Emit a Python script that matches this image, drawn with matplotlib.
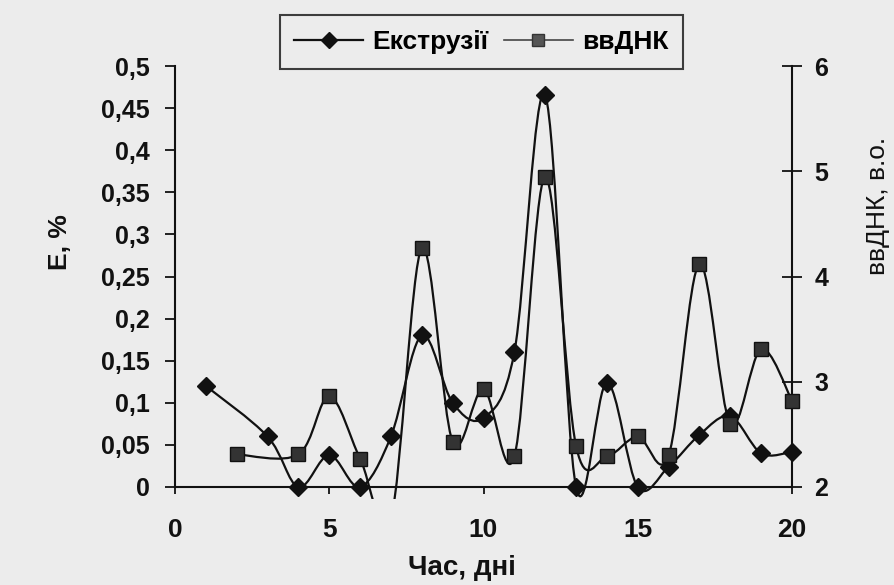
import matplotlib
matplotlib.use("Agg")
import matplotlib.pyplot as plt
from matplotlib.path import Path
from matplotlib.patches import PathPatch
from matplotlib.lines import Line2D
from matplotlib.transforms import Bbox, TransformedBbox

# ---- data ----
ext_days = [1, 3, 4, 5, 6, 7, 8, 9, 10, 11, 12, 13, 14, 15, 16, 17, 18, 19, 20]
ext_vals = [0.12, 0.06, 0.0, 0.038, 0.0, 0.06, 0.18, 0.10, 0.082, 0.16, 0.465,
            0.0, 0.124, 0.0, 0.024, 0.062, 0.084, 0.04, 0.042]
dna_days = [2, 4, 5, 6, 7, 8, 9, 10, 11, 12, 13, 14, 15, 16, 17, 18, 19, 20]
dna_vals = [2.31, 2.31, 2.86, 2.27, 1.7, 4.27, 2.43, 2.93, 2.29, 4.95, 2.39,
            2.29, 2.48, 2.3, 4.12, 2.6, 3.31, 2.82]
x_ticks = [0, 5, 10, 15, 20]
left_ticks = [0, 0.05, 0.1, 0.15, 0.2, 0.25, 0.3, 0.35, 0.4, 0.45, 0.5]
left_labels = ["0", "0,05", "0,1", "0,15", "0,2", "0,25", "0,3", "0,35", "0,4", "0,45", "0,5"]
right_ticks = [2, 3, 4, 5, 6]
right_labels = ["2", "3", "4", "5", "6"]
label_ext = "Екструзії"
label_dna = "ввДНК"
x_title = "Час, дні"
left_title = "E, %"
right_title = "ввДНК, в.о."

plt.rcParams['font.family'] = ['Liberation Sans', 'DejaVu Sans']
plt.rcParams['font.weight'] = 'bold'

BG = '#ececec'
INK = '#111111'
W, H = 894, 585


def smooth_path(xs, ys):
    verts = [(xs[0], ys[0])]
    codes = [Path.MOVETO]
    n = len(xs)
    for i in range(n - 1):
        a = i - 1 if i > 0 else i
        b = i + 2 if i + 2 < n else i + 1
        c1 = (xs[i] + (xs[i + 1] - xs[a]) / 6.0, ys[i] + (ys[i + 1] - ys[a]) / 6.0)
        c2 = (xs[i + 1] - (xs[b] - xs[i]) / 6.0, ys[i + 1] - (ys[b] - ys[i]) / 6.0)
        verts += [c1, c2, (xs[i + 1], ys[i + 1])]
        codes += [Path.CURVE4] * 3
    return Path(verts, codes)


fig = plt.figure(figsize=(W / 100, H / 100), dpi=100, facecolor=BG)
ax = fig.add_axes([175 / W, 1 - 487 / H, (792 - 175) / W, (487 - 66) / H])
ax.set_facecolor('none')
ax2 = ax.twinx()

ax.set_xlim(0, 20)
ax.set_ylim(0, 0.5)
ax2.set_ylim(2, 6)

for a in (ax, ax2):
    a.spines['top'].set_visible(False)
    for s in a.spines.values():
        s.set_color(INK)
        s.set_linewidth(1.5)

ax.spines['right'].set_visible(False)
ax2.spines['left'].set_visible(False)
ax2.spines['bottom'].set_visible(False)

# a slightly enlarged clip region so edge markers are drawn whole
clip1 = TransformedBbox(Bbox([[-0.05, -0.028], [1.05, 1.03]]), ax.transAxes)
clip2 = TransformedBbox(Bbox([[-0.05, -0.028], [1.05, 1.03]]), ax2.transAxes)

# extrusions
p1 = PathPatch(smooth_path(ext_days, ext_vals), facecolor='none',
               edgecolor=INK, linewidth=1.6, zorder=3)
ax.add_patch(p1)
p1.set_clip_box(clip1)
m1, = ax.plot(ext_days, ext_vals, linestyle='none', marker='D', markersize=9,
              color=INK, zorder=4)
m1.set_clip_box(clip1)

# ввДНК
p2 = PathPatch(smooth_path(dna_days, dna_vals), facecolor='none',
               edgecolor=INK, linewidth=1.6, zorder=3)
ax2.add_patch(p2)
p2.set_clip_box(clip2)
m2, = ax2.plot(dna_days, dna_vals, linestyle='none', marker='s', markersize=10.5,
               markerfacecolor='#333333', markeredgecolor=INK, zorder=4)
m2.set_clip_box(clip2)

ax.set_xticks(x_ticks)
ax.set_xticklabels([str(t) for t in x_ticks])
ax.set_yticks(left_ticks)
ax.set_yticklabels(left_labels)
ax2.set_yticks(right_ticks)
ax2.set_yticklabels(right_labels)

ax.tick_params(axis='x', direction='out', length=5, width=1.3, colors=INK,
               labelsize=19, pad=17)
ax.tick_params(axis='y', direction='out', length=7, width=1.3, colors=INK,
               labelsize=18, pad=11)
ax2.tick_params(axis='y', direction='inout', length=14, width=1.3, colors=INK,
                labelsize=18, pad=9)

fig.text(462 / W, 1 - 568 / H, x_title, fontsize=20, fontweight='bold',
         color=INK, ha='center', va='center')
fig.text(60 / W, 1 - 242 / H, left_title, fontsize=19, fontweight='bold',
         color=INK, ha='center', va='center', rotation=90)
fig.text(878 / W, 1 - 206 / H, right_title, fontsize=19, fontweight='normal',
         color=INK, ha='center', va='center', rotation=90)

handles = [
    Line2D([], [], color=INK, linewidth=1.6, marker='D', markersize=8),
    Line2D([], [], color='#444444', linewidth=1.2, marker='s', markersize=8,
           markerfacecolor='#555555', markeredgecolor='#333333'),
]
leg = fig.legend(handles, [label_ext, label_dna], loc='center',
                 bbox_to_anchor=(481.5 / W, 1 - 42 / H), ncol=2,
                 frameon=True, fancybox=False, handlelength=2.6,
                 handletextpad=0.35, columnspacing=0.6, borderpad=0.55,
                 prop={'size': 19, 'weight': 'bold'})
leg.get_frame().set_edgecolor(INK)
leg.get_frame().set_linewidth(1.5)
leg.get_frame().set_facecolor(BG)

fig.savefig("out.png", dpi=100, facecolor=BG)
